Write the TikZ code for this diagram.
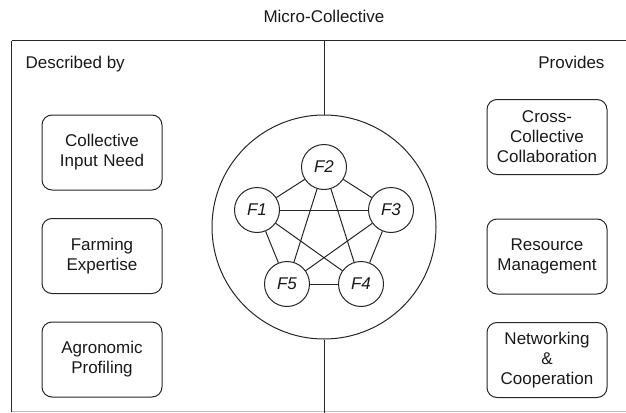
\documentclass[tikz,border=0pt]{standalone}
\usepackage{fontspec}
\setmainfont{Liberation Sans}
\begin{document}
\begin{tikzpicture}[x=1pt,y=-1pt,
  every node/.style={font=\fontsize{17}{20}\selectfont, text=black!90},
  box/.style={draw=black!85, line width=1pt, rounded corners=10pt,
    minimum width=120pt, minimum height=75pt, align=center,
    inner sep=0pt, text width=118pt},
  fn/.style={draw=black!85, line width=1pt, circle, minimum size=45pt,
    inner sep=0pt, font=\fontsize{17}{20}\selectfont\itshape},
  ln/.style={line width=1pt, draw=black!85}]
\useasboundingbox (0,0) rectangle (626,412);

% frame of the collective (runs past the right and bottom edges)
\begin{scope}
  \clip (0,0) rectangle (626,412);
  \draw[ln] (11.5,41) -- (11.5,412) (11.5,41) -- (626,41);
  \draw[line width=1pt, draw=black!25] (11.5,411.5) -- (626,411.5);
\end{scope}

% title and section headings
\node[anchor=base] (title) at (324,23) {Micro-Collective};
\node[anchor=base west] (desc) at (22,68) {Described by};
\node[anchor=base east] (prov) at (608,68) {Provides};

% central circle with the divider
\node[draw=black!85, line width=1pt, circle, minimum size=224pt, inner sep=0pt] (mc) at (324,227) {};
\coordinate (dtop) at (324,41);
\coordinate (dbot) at (324,413);
\draw[ln] (dtop) -- (mc.north);
\draw[ln] (mc.south) -- (dbot);

% members
\node[fn] (f2) at (324,167) {F2};
\node[fn] (f1) at (257,210) {F1};
\node[fn] (f3) at (391,210) {F3};
\node[fn] (f5) at (287,284) {F5};
\node[fn] (f4) at (361,284) {F4};

\foreach \a/\b in {f1/f2, f2/f3, f3/f4, f4/f5, f5/f1, f1/f3, f1/f4, f2/f5, f2/f4, f3/f5}
  \draw[ln] (\a) -- (\b);

% described by
\node[box] (cin) at (102,152.5) {Collective\\Input Need};
\node[box] (fexp) at (102,256) {Farming\\Expertise};
\node[box] (agro) at (102,359.5) {Agronomic\\Profiling};

% provides
\node[box] (ccc) at (547,137) {Cross-\\Collective\\Collaboration};
\node[box] (res) at (547,256.5) {Resource\\Management};
\node[box] (net) at (547,360) {Networking\\\&\\Cooperation};
\end{tikzpicture}
\end{document}
